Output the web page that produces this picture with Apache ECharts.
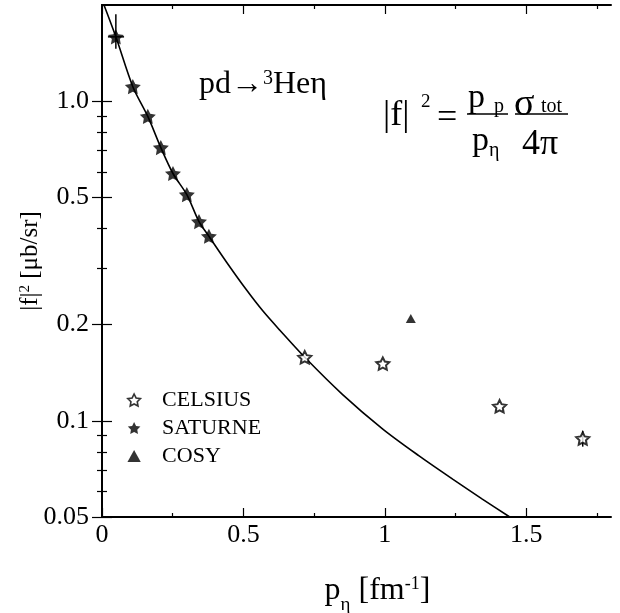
<!DOCTYPE html>
<html><head><meta charset="utf-8">
<script src="https://cdn.jsdelivr.net/npm/echarts@6/dist/echarts.min.js"></script>
<style>html,body{margin:0;padding:0;background:#fff}#c{width:620px;height:613px}</style>
</head><body><div id="c"></div>
<script>
// ---- data ----
var celsiusX = [0.717, 0.993, 1.406, 1.700];
var celsiusY = [0.158, 0.151, 0.111, 0.088];
var saturneX = [0.049, 0.109, 0.162, 0.208, 0.251, 0.300, 0.343, 0.378];
var saturneY = [1.59, 1.11, 0.896, 0.716, 0.594, 0.51, 0.42, 0.378];
var cosyX = [1.092];
var cosyY = [0.209];
// error bars: [x, y, xLow, xHigh, yLow, yHigh]
var errX = [0.049, 1.700];
var errY = [1.59, 0.088];
var errXLow = [0.021, 1.700];
var errXHigh = [0.078, 1.700];
var errYLow = [1.46, 0.083];
var errYHigh = [1.87, 0.093];
// theory curve
var curveX = [0.007, 0.049, 0.109, 0.162, 0.208, 0.251, 0.300, 0.343, 0.378, 0.44, 0.512, 0.57, 0.629, 0.717, 0.85, 0.993, 1.120, 1.240, 1.345, 1.442];
var curveY = [2.0, 1.59, 1.11, 0.896, 0.716, 0.594, 0.51, 0.42, 0.378, 0.314, 0.256, 0.22, 0.192, 0.158, 0.121, 0.0942, 0.0778, 0.0657, 0.0569, 0.05];
// axis ticks
var xMajor = [0, 0.5, 1, 1.5];
var xMajorLabels = ['0', '0.5', '1', '1.5'];
var xMinor = [0.25, 0.75, 1.25, 1.75];
var yMajor = [0.05, 0.1, 0.2, 0.5, 1.0];
var yMajorLabels = ['0.05', '0.1', '0.2', '0.5', '1.0'];
var yMinor = [0.06, 0.07, 0.08, 0.09, 0.3, 0.4, 0.6, 0.7, 0.8, 0.9];
var legendNames = ['CELSIUS', 'SATURNE', 'COSY'];

var FONT = '"Liberation Serif", "Times New Roman", serif';
var STAR = 'path://M0,-10L2.939,-4.045L9.511,-3.09L4.755,1.545L5.878,8.09L0,5L-5.878,8.09L-4.755,1.545L-9.511,-3.09L-2.939,-4.045Z';
var TRI = 'path://M0,-10L10,8L-10,8Z';

function zip(a, b) { return a.map(function (v, i) { return [v, b[i]]; }); }
function lblFmt(vals, labels) {
  return function (v) {
    var best = 0;
    for (var i = 1; i < vals.length; i++) if (Math.abs(vals[i] - v) < Math.abs(vals[best] - v)) best = i;
    return labels[best];
  };
}

var axLine = { show: true, lineStyle: { color: '#000', width: 2 } };
var noLine = { show: false };

function xAx(pos, ticks, len, showLabel, showLine) {
  return {
    type: 'value', min: 0, max: 1.8, position: pos,
    axisLine: showLine ? axLine : noLine,
    splitLine: { show: false },
    axisTick: { show: true, inside: true, length: len, customValues: ticks, lineStyle: { color: '#000', width: 1.2 } },
    axisLabel: showLabel ? { show: true, customValues: xMajor, formatter: lblFmt(xMajor, xMajorLabels), fontFamily: FONT, fontSize: 26, color: '#000', margin: 5 } : { show: false }
  };
}
function yAx(pos, ticks, len, showLabel, showLine) {
  return {
    type: 'log', logBase: 10, min: 0.05, max: 2, position: pos,
    axisLine: showLine ? axLine : noLine,
    splitLine: { show: false },
    minorTick: { show: false },
    axisTick: { show: true, inside: true, length: len, customValues: ticks, lineStyle: { color: '#000', width: 1.2 } },
    axisLabel: showLabel ? { show: true, customValues: yMajor, formatter: lblFmt(yMajor, yMajorLabels), fontFamily: FONT, fontSize: 26, color: '#000', margin: 13 } : { show: false }
  };
}

var xAxes = [xAx('bottom', xMajor, 9, true, true), xAx('bottom', xMinor, 4, false, false), xAx('top', xMajor, 9, false, true), xAx('top', xMinor, 4, false, false)];
xAxes[0].name = '{a|p}{sub|η}{a| [fm}{sup|-1}{a|]}';
xAxes[0].nameLocation = 'middle';
xAxes[0].nameGap = 58;
xAxes[0].nameMoveOverlap = false;
xAxes[0].nameTextStyle = {
  fontFamily: FONT, fontSize: 32, color: '#000', padding: [0, 0, 0, 42],
  rich: {
    a: { fontFamily: FONT, fontSize: 32, color: '#000' },
    sub: { fontFamily: FONT, fontSize: 19, color: '#000', verticalAlign: 'bottom', padding: [0, 0, -8, 0] },
    sup: { fontFamily: FONT, fontSize: 18, color: '#000', verticalAlign: 'top', padding: [0, 0, 10, 0] }
  }
};
var yAxes = [yAx('left', yMajor, 10, true, true), yAx('left', yMinor, 5, false, false), yAx('right', yMajor, 10, false, true), yAx('right', yMinor, 5, false, false)];
yAxes[0].name = '{a||f|}{sup|2}{a| [μb/sr]}';
yAxes[0].nameLocation = 'middle';
yAxes[0].nameGap = 59;
yAxes[0].nameMoveOverlap = false;
yAxes[0].nameRotate = 90;
yAxes[0].nameTextStyle = {
  fontFamily: FONT, fontSize: 25, color: '#000',
  rich: {
    a: { fontFamily: FONT, fontSize: 25, color: '#000' },
    sup: { fontFamily: FONT, fontSize: 15, color: '#000', verticalAlign: 'top', padding: [0, 0, 8, 0] }
  }
};

var errData = errX.map(function (x, i) { return [x, errY[i], errXLow[i], errXHigh[i], errYLow[i], errYHigh[i]]; });

var chart = echarts.init(document.getElementById('c'), null, { renderer: 'canvas' });
chart.setOption({
  animation: false,
  backgroundColor: '#fff',
  grid: { left: 102, right: 9, top: 5, bottom: 96, containLabel: false, outerBoundsMode: 'none' },
  xAxis: xAxes,
  yAxis: yAxes,
  legend: {
    data: [
      { name: legendNames[0], icon: STAR, itemStyle: { color: '#fff', borderColor: '#000', borderWidth: 1.6 } },
      { name: legendNames[1], icon: STAR },
      { name: legendNames[2], icon: TRI }
    ],
    orient: 'vertical', left: 122, top: 384, itemWidth: 46, itemHeight: 12, itemGap: 6,
    selectedMode: false,
    textStyle: { fontFamily: FONT, fontSize: 22, color: '#000' }
  },
  series: [
    {
      type: 'line', name: 'curve', data: zip(curveX, curveY), showSymbol: false, smooth: 0.3,
      lineStyle: { color: '#000', width: 1.6 }, clip: true, z: 2
    },
    {
      type: 'custom', name: 'err', data: errData, z: 3, clip: true,
      renderItem: function (params, api) {
        var xl = api.coord([api.value(2), api.value(1)]);
        var xh = api.coord([api.value(3), api.value(1)]);
        var yl = api.coord([api.value(0), api.value(4)]);
        var yh = api.coord([api.value(0), api.value(5)]);
        var st = { stroke: '#000', lineWidth: 1.5 };
        return { type: 'group', children: [
          { type: 'line', shape: { x1: xl[0], y1: xl[1], x2: xh[0], y2: xh[1] }, style: st },
          { type: 'line', shape: { x1: yl[0], y1: yl[1], x2: yh[0], y2: yh[1] }, style: st }
        ] };
      }
    },
    {
      type: 'scatter', name: legendNames[0], data: zip(celsiusX, celsiusY), symbol: STAR, symbolSize: 13, symbolKeepAspect: true,
      itemStyle: { color: '#fff', borderColor: '#000', borderWidth: 2 }, z: 5
    },
    {
      type: 'scatter', name: legendNames[1], data: zip(saturneX, saturneY), symbol: STAR, symbolSize: 16, symbolKeepAspect: true,
      itemStyle: { color: '#000' }, z: 5
    },
    {
      type: 'scatter', name: legendNames[2], data: zip(cosyX, cosyY), symbol: TRI, symbolSize: 10, symbolKeepAspect: true,
      itemStyle: { color: '#000' }, z: 5
    }
  ],
  graphic: [
    { type: 'text', left: 199, top: 69, style: { text: '{n|pd→}{sup|3}{n|Heη}', rich: {
        n: { fontFamily: FONT, fontSize: 32, fill: '#000' },
        sup: { fontFamily: FONT, fontSize: 20, fill: '#000', verticalAlign: 'top' } } } },
    { type: 'text', x: 383, y: 116, style: { text: '|f|', fontFamily: FONT, fontSize: 36, fill: '#000', verticalAlign: 'middle' } },
    { type: 'text', x: 421, y: 102, style: { text: '2', fontFamily: FONT, fontSize: 19, fill: '#000', verticalAlign: 'middle' } },
    { type: 'text', x: 437, y: 119, style: { text: '=', fontFamily: FONT, fontSize: 36, fill: '#000', verticalAlign: 'middle' } },
    { type: 'text', x: 468, y: 98, style: { text: 'p', fontFamily: FONT, fontSize: 34, fill: '#000', verticalAlign: 'middle' } },
    { type: 'text', x: 494, y: 107, style: { text: 'p', fontFamily: FONT, fontSize: 20, fill: '#000', verticalAlign: 'middle' } },
    { type: 'line', shape: { x1: 467, y1: 114, x2: 508, y2: 114 }, style: { stroke: '#000', lineWidth: 1.5 } },
    { type: 'text', x: 472, y: 141, style: { text: 'p', fontFamily: FONT, fontSize: 34, fill: '#000', verticalAlign: 'middle' } },
    { type: 'text', x: 489, y: 151, style: { text: 'η', fontFamily: FONT, fontSize: 20, fill: '#000', verticalAlign: 'middle' } },
    { type: 'text', x: 514, y: 105, style: { text: 'σ', fontFamily: FONT, fontSize: 38, fill: '#000', verticalAlign: 'middle' } },
    { type: 'text', x: 541, y: 107, style: { text: 'tot', fontFamily: FONT, fontSize: 20, fill: '#000', verticalAlign: 'middle' } },
    { type: 'line', shape: { x1: 515, y1: 114, x2: 568, y2: 114 }, style: { stroke: '#000', lineWidth: 1.5 } },
    { type: 'text', x: 522, y: 145, style: { text: '4π', fontFamily: FONT, fontSize: 36, fill: '#000', verticalAlign: 'middle' } }
  ]
});
</script>
</body></html>
